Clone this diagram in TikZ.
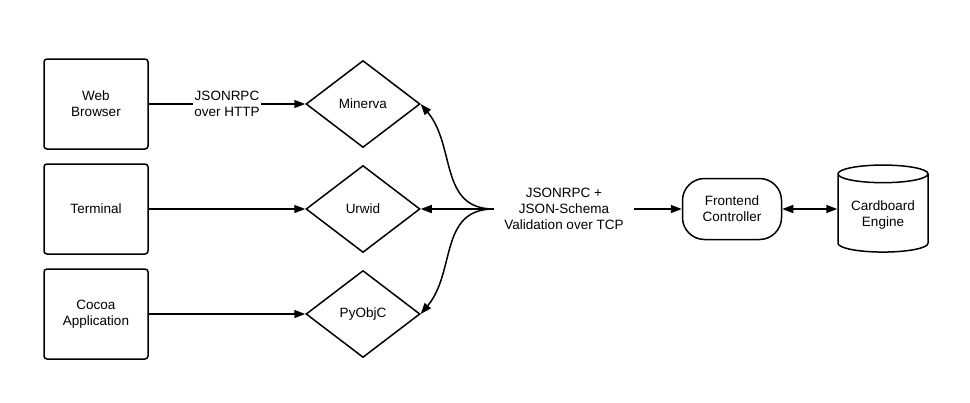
\documentclass[tikz,border=0pt]{standalone}
\usepackage{fontspec}
\setmainfont{Liberation Sans}
\usetikzlibrary{shapes.geometric,arrows.meta}

\begin{document}
\begin{tikzpicture}[x=1pt,y=-1pt,>={Triangle[length=11pt,width=8pt]},line width=1.5pt,
    font=\fontsize{13.5}{16}\selectfont,
    client/.style={draw,rounded corners=3pt,minimum width=104pt,minimum height=90pt,align=center},
    lib/.style={draw,diamond,minimum width=114pt,minimum height=87pt,inner sep=0pt,align=center},
    ctrl/.style={draw,rounded corners=22pt,minimum width=99pt,minimum height=61pt,align=center},
    store/.style={draw,cylinder,shape border rotate=90,aspect=0.25,minimum width=90pt,minimum height=87pt,align=center}]
  \useasboundingbox (0,0) rectangle (970,402);
  % clients
  \node [client] (web) at (96,104) {Web\\Browser};
  \node [client] (term) at (96,209) {Terminal};
  \node [client] (cocoa) at (96,314) {Cocoa\\Application};
  % bindings
  \node [lib] (minerva) at (363,104) {Minerva};
  \node [lib] (urwid) at (363,209) {Urwid};
  \node [lib] (pyobjc) at (363,314) {PyObjC};
  % protocol, controller, engine
  \node [align=center,inner xsep=10pt] (tcp) at (564,209) {JSONRPC +\\JSON-Schema\\Validation over TCP};
  \node [ctrl] (front) at (732,209) {Frontend\\Controller};
  \node [store] (engine) at (883,215) {Cardboard\\Engine};
  \draw [->] (web) -- (minerva) node [midway,fill=white,inner sep=1pt,align=center] {JSONRPC\\over HTTP};
  \draw [->] (term) -- (urwid);
  \draw [->] (cocoa) -- (pyobjc);
  \draw [->] (tcp.west) to [out=180,in=-50,looseness=1.1] (minerva.east);
  \draw [->] (tcp.west) -- (urwid.east);
  \draw [->] (tcp.west) to [out=180,in=50,looseness=1.1] (pyobjc.east);
  \draw [->] (tcp.east) -- (tcp.east -| front.west);
  \draw [<->] (front.east) -- (front.east -| engine.west);
\end{tikzpicture}
\end{document}
